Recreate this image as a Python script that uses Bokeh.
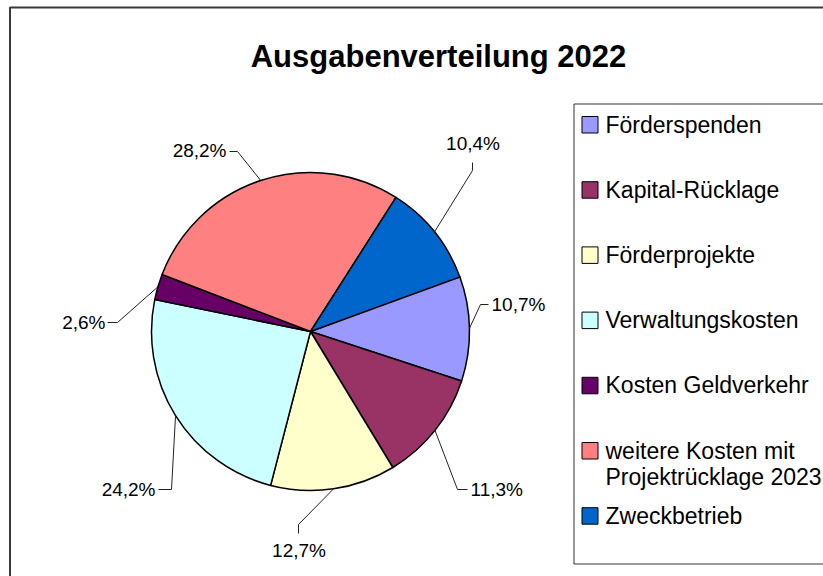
import math
from bokeh.plotting import figure
from bokeh.models import Range1d, ColumnDataSource
from bokeh.core.properties import value
from bokeh.embed import file_html
from bokeh.resources import INLINE

# ---------------- data ----------------
categories = ["Förderspenden", "Kapital-Rücklage", "Förderprojekte", "Verwaltungskosten",
              "Kosten Geldverkehr", "weitere Kosten mit\nProjektrücklage 2023", "Zweckbetrieb"]
shares = [10.7, 11.3, 12.7, 24.2, 2.6, 28.2, 10.4]
share_labels = ["10,7%", "11,3%", "12,7%", "24,2%", "2,6%", "28,2%", "10,4%"]
colors = ["#9999FF", "#993366", "#FFFFCC", "#CCFFFF", "#660066", "#FF8080", "#0066CC"]
title = "Ausgabenverteilung 2022"

# ---------------- layout (page pixels, y downward) ----------------
W, H = 823, 576
FONT = "Liberation Sans"
cx, cy, R = 310, 331, 159
start_deg = 20.4  # first slice begins here, slices run clockwise

def Y(y):
    return H - y

# leader geometry relative to pie centre: elbow, attach, text centre, align
label_layout = [
    ((170, -27), (178, -27), (181, -27), "left"),
    ((147, 158), (157, 158), (160, 158), "left"),
    ((-12, 193), (-12, 202), (-11.5, 219), "center"),
    ((-139, 158), (-152, 158), (-155, 158), "right"),
    ((-193, -9), (-203, -9), (-205, -9), "right"),
    ((-73, -180), (-81, -180), (-84, -181), "right"),
    ((162, -161), (162, -169), (162.5, -188), "center"),
]

p = figure(width=W, height=H, output_backend="svg", toolbar_location=None,
           x_range=Range1d(0, W), y_range=Range1d(0, H),
           x_axis_type=None, y_axis_type=None, min_border=0)
p.grid.visible = False
p.outline_line_color = None
p.background_fill_color = "white"
p.border_fill_color = "white"

# outer chart frame (left and top edges visible)
p.line(x=[9.5, 9.5, 830], y=[Y(590), Y(7), Y(7)], line_color="#3a3a3a", line_width=2)

# title
p.text(x=[438], y=[Y(56)], text=[title], text_font=value(FONT), text_font_size="31px",
       text_font_style="bold", text_align="center", text_baseline="middle", text_color="black")

# pie wedges
cum = 0.0
starts, ends, mids = [], [], []
for s in shares:
    a0 = start_deg - cum * 3.6
    a1 = start_deg - (cum + s) * 3.6
    starts.append(math.radians(a1))
    ends.append(math.radians(a0))
    mids.append(math.radians((a0 + a1) / 2))
    cum += s
src = ColumnDataSource(dict(start=starts, end=ends, color=colors))
p.wedge(x=cx, y=Y(cy), radius=R, start_angle="start", end_angle="end", direction="anticlock",
        fill_color="color", line_color="black", line_width=1.5, source=src)

# leader lines and labels
for lab, m, (el, at, tx, al) in zip(share_labels, mids, label_layout):
    ex = cx + R * math.cos(m)
    ey = cy - R * math.sin(m)
    xs = [ex, cx + el[0], cx + at[0]]
    ys = [Y(ey), Y(cy + el[1]), Y(cy + at[1])]
    p.line(x=xs, y=ys, line_color="#222222", line_width=1)
    p.text(x=[cx + tx[0]], y=[Y(cy + tx[1])], text=[lab], text_font=value(FONT),
           text_font_size="19px", text_align=al, text_baseline="middle", text_color="black")

# legend box
p.line(x=[830, 573.5, 573.5, 830], y=[Y(103.5), Y(103.5), Y(563.5), Y(563.5)],
       line_color="#333333", line_width=1)

leg_mid0, leg_step = 124, 65.2
for i, (cat, col) in enumerate(zip(categories, colors)):
    mid = leg_mid0 + leg_step * i
    p.quad(left=581.5, right=597.5, top=Y(mid - 8), bottom=Y(mid + 8.5), fill_color=col,
           line_color="black", line_width=1)
    for j, line in enumerate(cat.split("\n")):
        p.text(x=[605], y=[Y(mid + 26 * j)], text=[line], text_font=value(FONT),
               text_font_size="23px", text_align="left", text_baseline="middle",
               text_color="black")

open("out.html", "w").write(file_html(p, INLINE))
